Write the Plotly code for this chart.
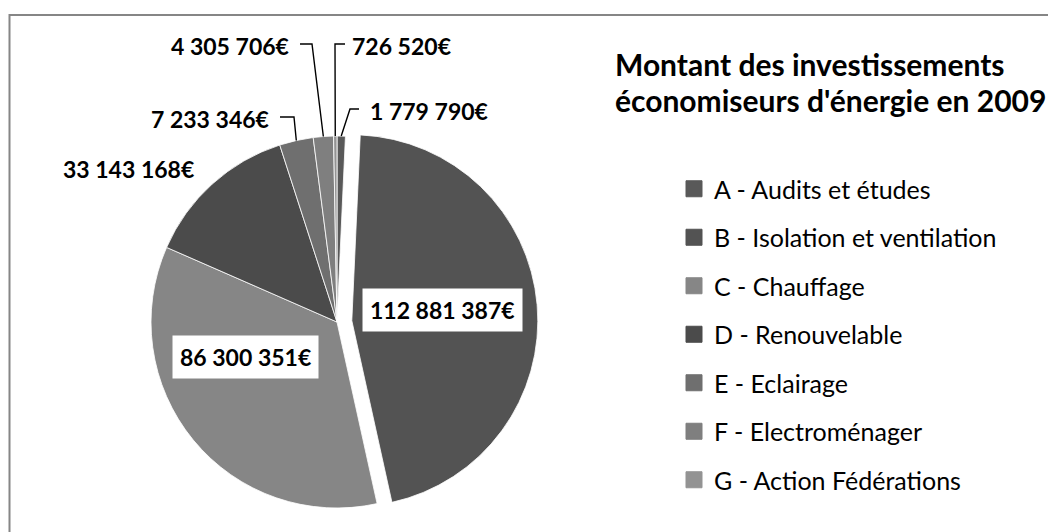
import math
import plotly.graph_objects as go

# ---------------- data ----------------
categories = [
    "A - Audits et études",
    "B - Isolation et ventilation",
    "C - Chauffage",
    "D - Renouvelable",
    "E - Eclairage",
    "F - Electroménager",
    "G - Action Fédérations",
]
values = [1779790, 112881387, 86300351, 33143168, 7233346, 4305706, 726520]
colors = ["#595959", "#535353", "#868686", "#4b4b4b", "#6f6f6f", "#7f7f7f", "#939393"]
pulls = [0, 0.08, 0, 0, 0, 0, 0]
title_lines = ["Montant des investissements", "économiseurs d'énergie en 2009"]

# ---------------- layout geometry (screen pixels) ----------------
W, H = 1056, 532
OFF = 8  # page body margin
CX, CY, R = 337, 322, 186
FONT = "Lato, 'Open Sans', sans-serif"


def px(x, y):
    return (x - OFF) / W, 1 - (y - OFF) / H


half = R * (1 + max(pulls))
domain_x = [(CX - OFF - half) / W, (CX - OFF + half) / W]
domain_y = [1 - (CY - OFF + half) / H, 1 - (CY - OFF - half) / H]


def fmt(v):
    return f"{v:,}".replace(",", " ") + "€"


# slice mid angles (clockwise from 12 o'clock, as plotly draws them)
total = sum(values)
mids = []
acc = 0.0
for v in values:
    mids.append((acc + v / 2) / total * 360.0)
    acc += v


def edge_point(i):
    a = math.radians(mids[i])
    return CX + R * math.sin(a), CY - R * math.cos(a)


fig = go.Figure()
fig.add_trace(go.Pie(
    labels=categories,
    values=values,
    sort=False,
    direction="clockwise",
    rotation=0,
    pull=pulls,
    marker=dict(colors=colors, line=dict(color="white", width=0.8)),
    textinfo="none",
    hoverinfo="label+value",
    showlegend=False,
    domain=dict(x=domain_x, y=domain_y),
))

# legend entries (one group each so they can be spaced like the reference)
for name, col in zip(categories, colors):
    fig.add_trace(go.Scatter(
        x=[None], y=[None], mode="markers", name=name, legendgroup=name,
        marker=dict(symbol="square", size=16, color=col, line=dict(width=1, color=col)),
    ))

annotations = []
shapes = []

# inside labels with white boxes
inside = {1: (442, 310), 2: (245, 357)}
for i, (x, y) in inside.items():
    ax, ay = px(x, y)
    annotations.append(dict(
        x=ax, y=ay, xref="paper", yref="paper", text=f"<b>{fmt(values[i])}</b>",
        showarrow=False, xanchor="center", yanchor="middle",
        bgcolor="white", borderpad=7,
        font=dict(family=FONT, size=23, color="black"),
    ))

# outside labels: (text x, text y, anchor, elbow points)
outside = {
    3: (196, 169, "right", None),
    4: (271, 119, "right", [(294, 117), (280, 117)]),
    5: (291, 46, "right", [(312, 44), (300, 44)]),
    6: (350, 46, "left", [(335, 44), (345, 44)]),
    0: (368, 111, "left", [(350, 109), (359, 109)]),
}
for i, (x, y, anc, elbow) in outside.items():
    ax, ay = px(x, y)
    annotations.append(dict(
        x=ax, y=ay, xref="paper", yref="paper", text=f"<b>{fmt(values[i])}</b>",
        showarrow=False, xanchor=anc, yanchor="middle",
        font=dict(family=FONT, size=23, color="black"),
    ))
    if elbow:
        pts = [edge_point(i)] + elbow
        segs = []
        for (x0, y0) in pts:
            qx, qy = px(x0, y0)
            segs.append(f"{qx:.5f},{qy:.5f}")
        path = "M" + " L".join(segs)
        shapes.append(dict(type="path", xref="paper", yref="paper", path=path,
                           line=dict(color="black", width=1.4)))

# title: one text, two lines; base size sets the line spacing
title_text = "<br>".join(
    f"<span style='font-size:30px'><b>{t}</b></span>" for t in title_lines
)
tx, ty = px(613, 82)
annotations.append(dict(
    x=tx, y=ty, xref="paper", yref="paper", text=title_text,
    showarrow=False, xanchor="left", yanchor="middle", align="left",
    font=dict(family=FONT, size=28, color="black"),
))

# chart border
bx0, by1 = px(9.5, 15)
shapes.append(dict(type="rect", xref="paper", yref="paper",
                   x0=bx0, x1=1.05, y0=-0.05, y1=by1,
                   line=dict(color="#868686", width=2)))

lx, ly = px(674, 166)
fig.update_layout(
    width=W, height=H, autosize=False,
    margin=dict(l=0, r=0, t=0, b=0),
    paper_bgcolor="white", plot_bgcolor="white",
    font=dict(family=FONT, color="black"),
    xaxis=dict(visible=False), yaxis=dict(visible=False),
    showlegend=True,
    legend=dict(
        x=lx, xanchor="left", y=ly, yanchor="top",
        font=dict(family=FONT, size=25, color="black"),
        tracegroupgap=13, bgcolor="rgba(0,0,0,0)", itemclick=False,
    ),
    annotations=annotations,
    shapes=shapes,
)

fig.write_html("out.html")
